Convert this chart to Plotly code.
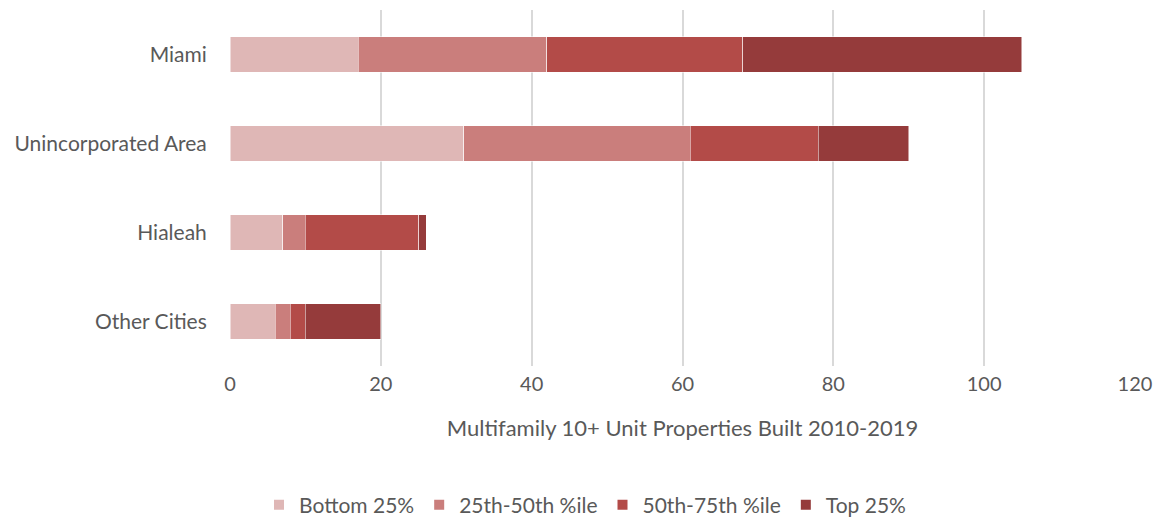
import plotly.graph_objects as go

categories = ["Miami", "Unincorporated Area", "Hialeah", "Other Cities"]
series_names = ["Bottom 25%", "25th-50th %ile", "50th-75th %ile", "Top 25%"]
bottom_25 = [17, 31, 7, 6]
p25_50 = [25, 30, 3, 2]
p50_75 = [26, 17, 15, 2]
top_25 = [37, 12, 1, 10]
colors = ["#DFB7B6", "#CA7E7C", "#B34B48", "#953B3B"]
x_ticks = [0, 20, 40, 60, 80, 100, 120]

font_family = "Lato, 'Noto Sans', sans-serif"
gray = "#595959"

fig = go.Figure()
for name, vals, col in zip(series_names, [bottom_25, p25_50, p50_75, top_25], colors):
    fig.add_trace(go.Bar(
        y=categories, x=vals, name=name, orientation="h",
        marker=dict(color=col, line=dict(color="white", width=0.5)),
    ))

fig.update_layout(
    barmode="stack",
    bargap=0.6,
    width=1154, height=513,
    margin=dict(l=222, r=27, t=2, b=155),
    plot_bgcolor="white", paper_bgcolor="white",
    font=dict(family=font_family, color=gray, size=18),
    xaxis=dict(
        range=[0, 120], tickvals=x_ticks, showgrid=True, gridcolor="#D9D9D9", gridwidth=2,
        zeroline=False, ticks="", tickfont=dict(size=20, color=gray), automargin=False,
        ticklabelstandoff=4,
        title=dict(text="Multifamily 10+ Unit Properties Built 2010-2019", font=dict(size=22, color=gray), standoff=26),
    ),
    yaxis=dict(
        autorange="reversed", categoryorder="array", categoryarray=categories,
        ticks="outside", ticklen=18, tickcolor="white", tickfont=dict(size=21, color=gray),
        showline=False, automargin=False,
    ),
    legend=dict(
        orientation="h", xref="container", yref="container",
        x=0.5, xanchor="center", y=0.031, yanchor="middle",
        font=dict(size=21, color=gray), itemsizing="constant", traceorder="normal",
        itemwidth=30,
    ),
)

fig.write_html("out.html")
